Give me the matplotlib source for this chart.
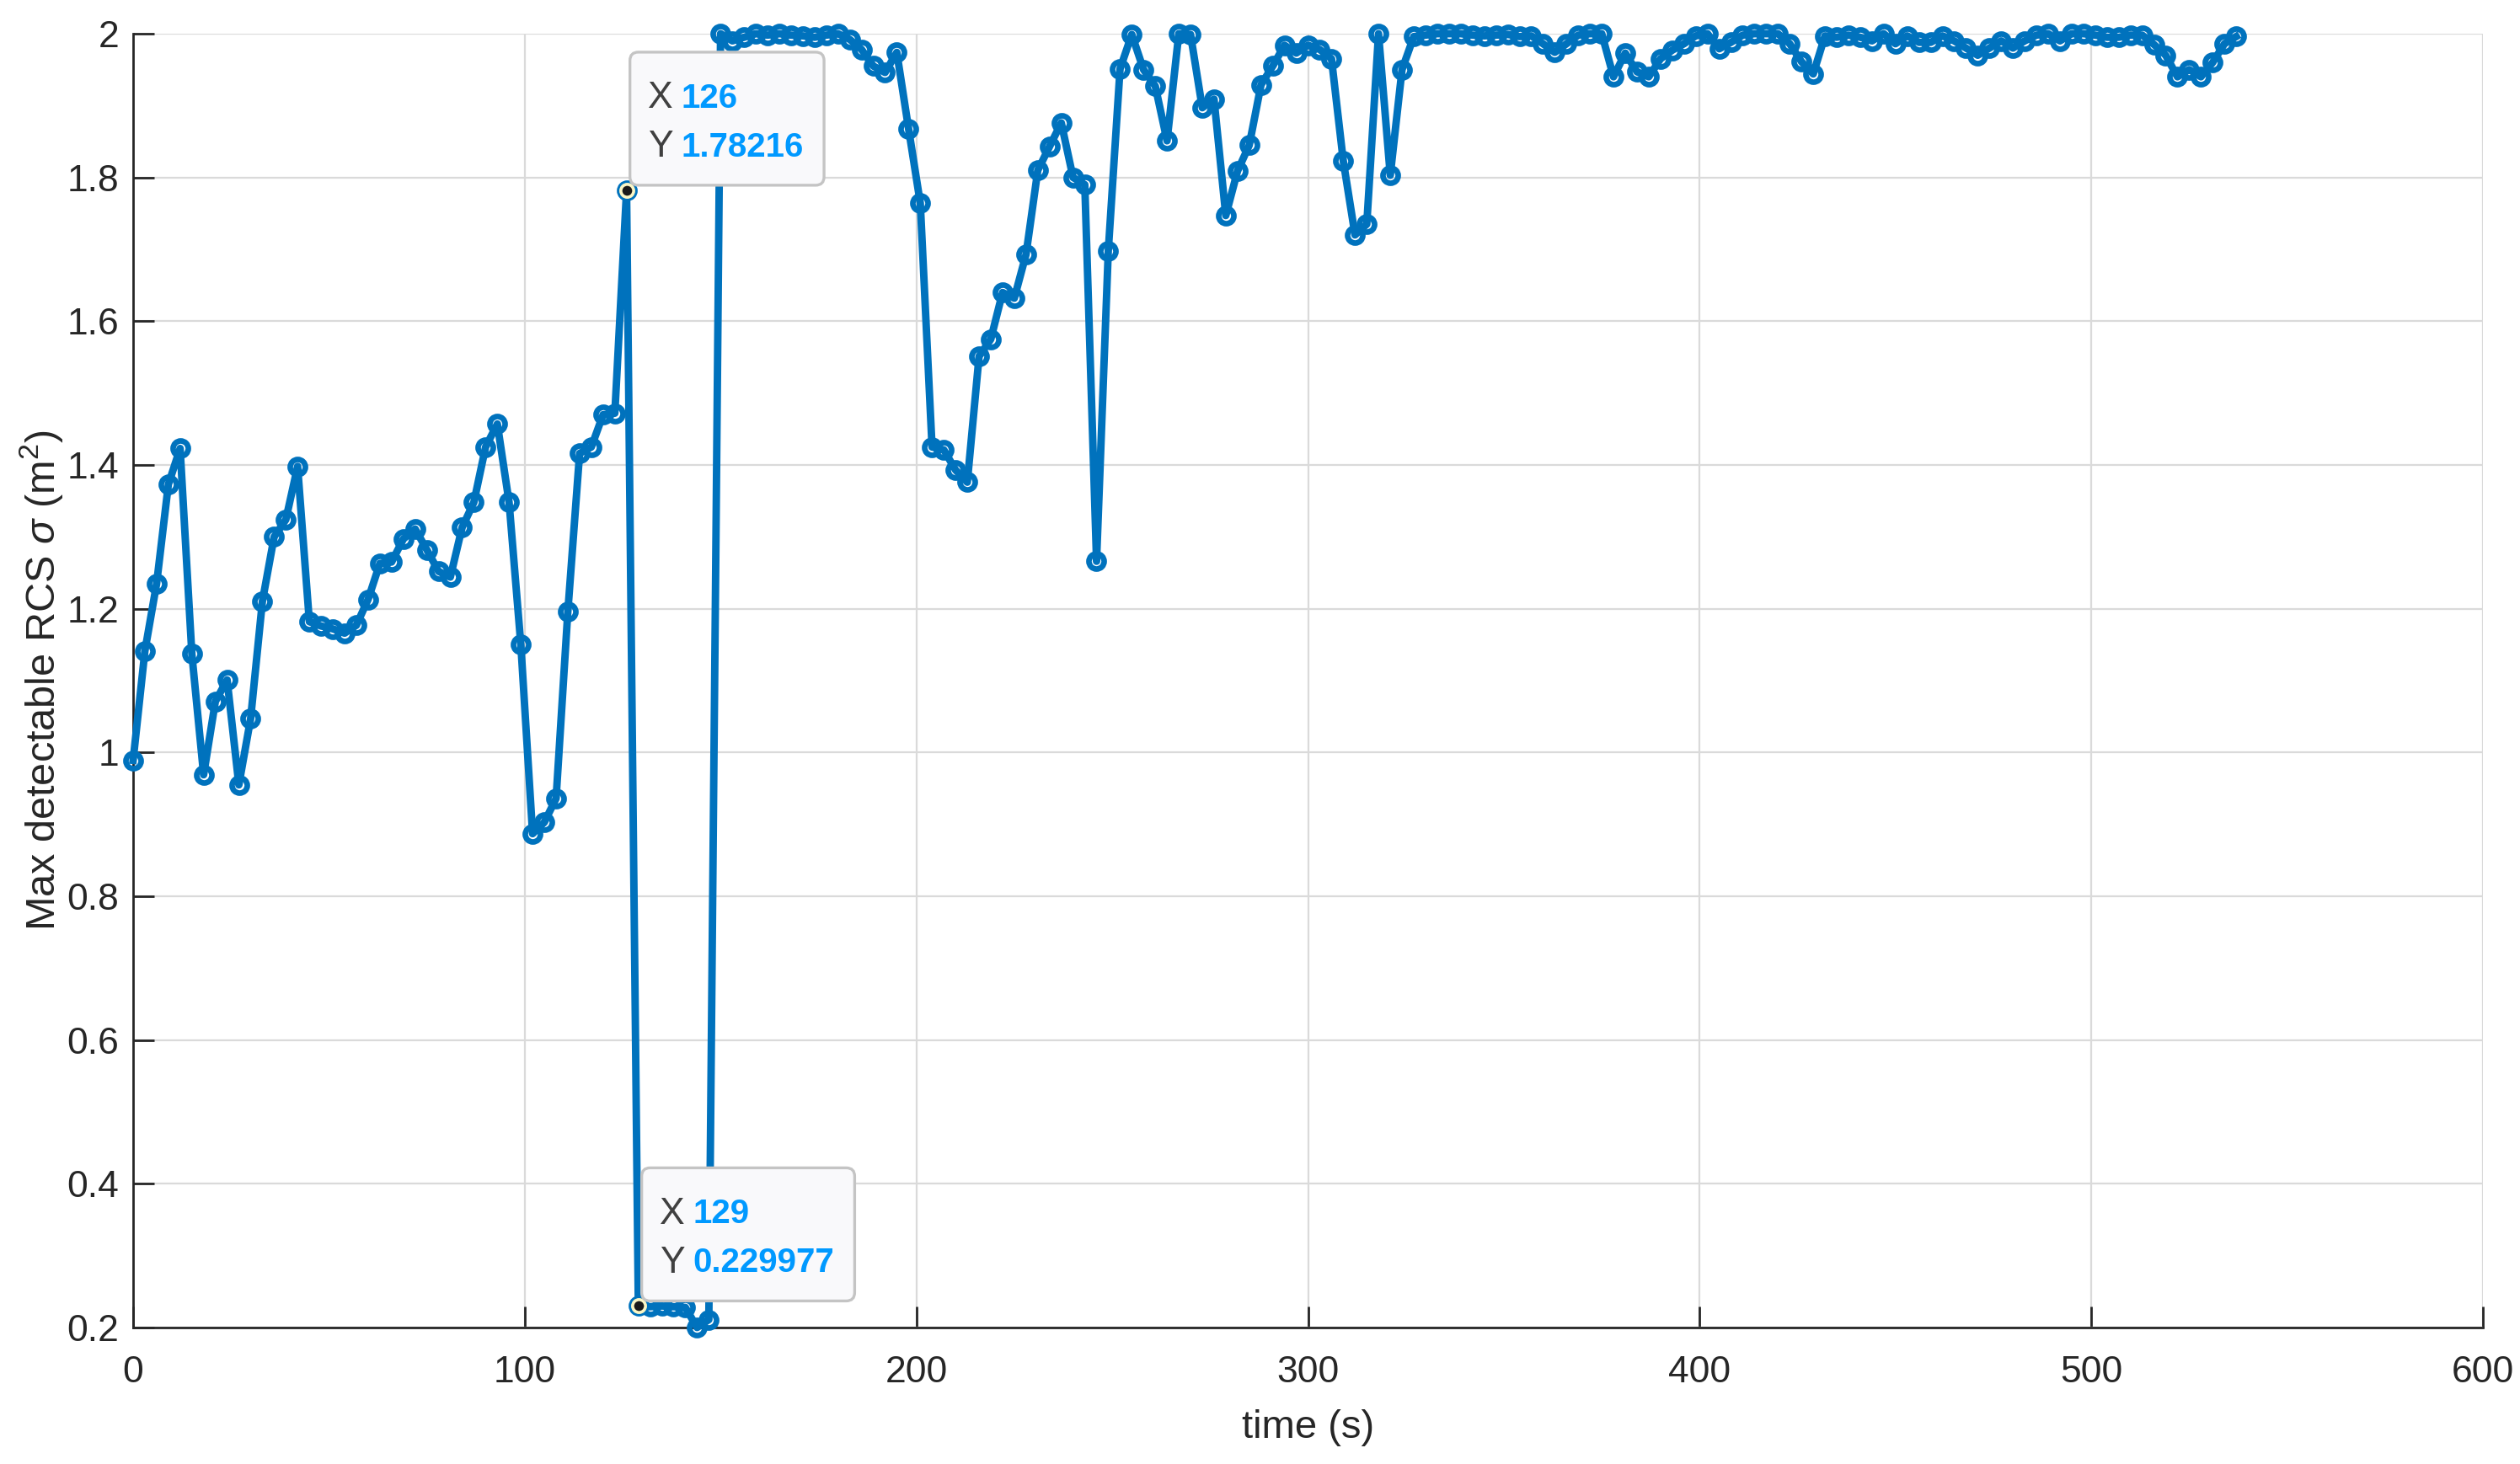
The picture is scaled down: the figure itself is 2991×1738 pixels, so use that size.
import numpy as np
import matplotlib
matplotlib.use('Agg')
import matplotlib.pyplot as plt
from matplotlib.patches import FancyBboxPatch
from matplotlib.transforms import IdentityTransform

# Max detectable RCS, one sample every 3 s
rcs = [
    0.989, 1.141, 1.235, 1.373, 1.423, 1.137, 0.969, 1.071, 1.101, 0.955,
    1.047, 1.210, 1.300, 1.324, 1.398, 1.182, 1.176, 1.172, 1.166, 1.177,
    1.213, 1.263, 1.265, 1.297, 1.311, 1.282, 1.252, 1.244, 1.313, 1.348,
    1.425, 1.457, 1.348, 1.150, 0.887, 0.903, 0.936, 1.196, 1.416, 1.425,
    1.470, 1.472, 1.78216, 0.229977, 0.229, 0.230, 0.229, 0.228, 0.200, 0.211,
    2.000, 1.990, 1.995, 2.000, 1.998, 2.000, 1.998, 1.997, 1.995, 1.998,
    2.000, 1.992, 1.978, 1.955, 1.946, 1.974, 1.868, 1.764, 1.425, 1.421,
    1.393, 1.376, 1.551, 1.575, 1.640, 1.632, 1.693, 1.810, 1.843, 1.876,
    1.800, 1.790, 1.266, 1.698, 1.951, 1.999, 1.950, 1.927, 1.851, 2.000,
    1.999, 1.897, 1.909, 1.747, 1.809, 1.845, 1.929, 1.955, 1.984, 1.973,
    1.984, 1.978, 1.965, 1.823, 1.720, 1.735, 2.000, 1.803, 1.950, 1.996,
    1.998, 2.000, 2.000, 2.000, 1.998, 1.997, 1.998, 1.999, 1.996, 1.997,
    1.986, 1.974, 1.986, 1.998, 2.000, 2.000, 1.940, 1.973, 1.947, 1.940,
    1.965, 1.977, 1.986, 1.997, 2.000, 1.979, 1.988, 1.998, 2.000, 2.000,
    2.000, 1.986, 1.961, 1.944, 1.997, 1.995, 1.998, 1.995, 1.990, 2.000,
    1.986, 1.997, 1.988, 1.988, 1.997, 1.990, 1.980, 1.970, 1.980, 1.990,
    1.980, 1.990, 1.998, 2.000, 1.990, 2.000, 2.000, 1.998, 1.995, 1.995,
    1.998, 1.998, 1.985, 1.970, 1.940, 1.950, 1.940, 1.960, 1.986, 1.996,
]
time = np.arange(0, 3 * len(rcs), 3)  # sampled every 3 s

# data tips shown on the chart
tip_x = [126, 129]
tip_y = [1.78216, 0.229977]
tip_labels_x = ['126', '129']
tip_labels_y = ['1.78216', '0.229977']

xticks = [0, 100, 200, 300, 400, 500, 600]
yticks = [0.2, 0.4, 0.6, 0.8, 1, 1.2, 1.4, 1.6, 1.8, 2]

plt.rcParams['font.family'] = ['Liberation Sans', 'DejaVu Sans']
plt.rcParams['mathtext.fontset'] = 'custom'
plt.rcParams['mathtext.rm'] = 'Liberation Sans'
plt.rcParams['mathtext.it'] = 'Liberation Sans:italic'

W, H, DPI = 2991, 1738, 200
fig = plt.figure(figsize=(W / DPI, H / DPI), dpi=DPI)
ax = fig.add_axes([158 / W, (H - 1576) / H, (2947 - 158) / W, (1576 - 40) / H])

ax.plot(time, rcs, '-o', color='#0072BD', lw=3.2, ms=6.5, mew=2.4,
        mfc='none', clip_on=False, zorder=3)

ax.set_xlim(0, 600)
ax.set_ylim(0.2, 2)
ax.set_xticks(xticks)
ax.set_yticks(yticks)
ax.set_yticklabels([f'{v:g}' for v in yticks])
ax.grid(True, color='#dadada', lw=0.8)
ax.set_axisbelow(True)
for s in ['top', 'right']:
    ax.spines[s].set_visible(False)
for s in ['left', 'bottom']:
    ax.spines[s].set_color('#262626')
    ax.spines[s].set_linewidth(1.0)
ax.tick_params(direction='in', length=9, width=1, color='#262626',
               labelsize=16, labelcolor='#262626')
ax.tick_params(axis='x', pad=12)
ax.tick_params(axis='y', pad=6)

ax.set_xlabel('time (s)', fontsize=17, color='#262626', labelpad=8)
ax.set_ylabel('Max detectable RCS $\\sigma$ (m$^2$)', fontsize=17.5,
              color='#262626', labelpad=1)

# data tips (MATLAB style)
ax.plot(tip_x, tip_y, 'o', color='#1a1a1a', ms=5.5, mec='#fbf6c4', mew=1.3,
        ls='none', zorder=6, clip_on=False)

fig.canvas.draw()
renderer = fig.canvas.get_renderer()
ident = IdentityTransform()
for tx, ty, lx, ly in zip(tip_x, tip_y, tip_labels_x, tip_labels_y):
    px, py = ax.transData.transform((tx, ty))
    left = px + 4
    bottom = py + 6
    height = 158
    top = bottom + height
    texts = []
    for row, (lab, val) in enumerate([('X', lx), ('Y', ly)]):
        yy = top - 55 - row * 58
        fig.text(left + 21, yy, lab, transform=ident, fontsize=16,
                 color='#404040', va='center', ha='left', zorder=8)
        t = fig.text(left + 61, yy, val, transform=ident, fontsize=14.5,
                     color='#0099ff', fontweight='bold', va='center',
                     ha='left', zorder=8)
        texts.append(t)
    right = max(t.get_window_extent(renderer).x1 for t in texts) + 24
    box = FancyBboxPatch((left, bottom), right - left, height,
                         boxstyle='round,pad=0,rounding_size=10',
                         transform=ident, facecolor='#f9f9fb',
                         edgecolor='#c4c4c4', lw=1.2, zorder=7)
    fig.patches.append(box)

fig.savefig('out.png', dpi=DPI)
